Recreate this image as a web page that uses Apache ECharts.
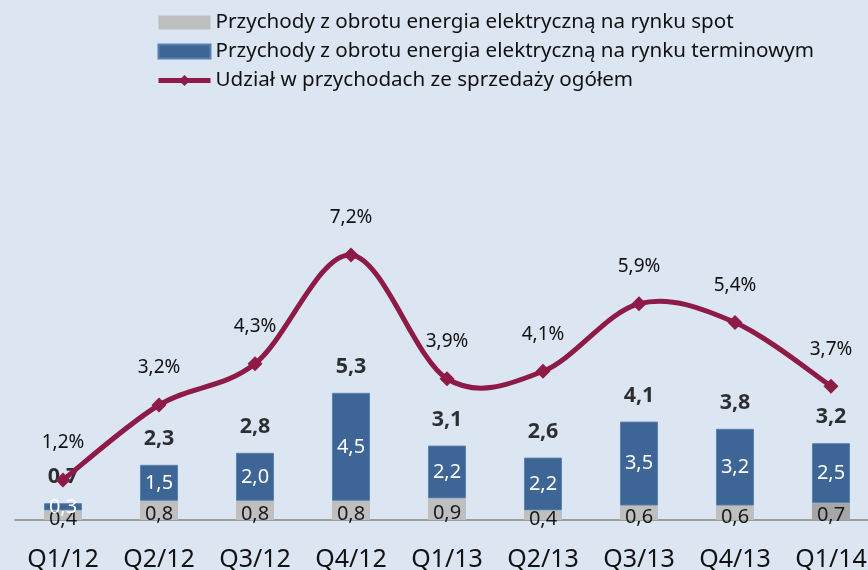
<!DOCTYPE html>
<html>
<head>
<meta charset="utf-8">
<script src="https://cdn.jsdelivr.net/npm/echarts@6/dist/echarts.min.js"></script>
<style>
    html, body { margin: 0; padding: 0; background: #DCE6F2; }
    #chart { width: 868px; height: 570px; }
</style>
</head>
<body>
<div id="chart"></div>
<script>
    // dane z wykresu
    var quarters = ['Q1/12', 'Q2/12', 'Q3/12', 'Q4/12', 'Q1/13', 'Q2/13', 'Q3/13', 'Q4/13', 'Q1/14'];
    var spot = [0.4, 0.8, 0.8, 0.8, 0.9, 0.4, 0.6, 0.6, 0.7];
    var terminowy = [0.3, 1.5, 2.0, 4.5, 2.2, 2.2, 3.5, 3.2, 2.5];
    var totals = [0.7, 2.3, 2.8, 5.3, 3.1, 2.6, 4.1, 3.8, 3.2];
    var udzial = [1.2, 3.2, 4.3, 7.2, 3.9, 4.1, 5.9, 5.4, 3.7];

    var names = [
        'Przychody z obrotu energia elektryczną na rynku spot',
        'Przychody z obrotu energia elektryczną na rynku terminowym',
        'Udział w przychodach ze sprzedaży ogółem'
    ];
    var lineColor = '#8E1A48';
    var font = '"Noto Sans", sans-serif';
    var comma = function (v, d) { return v.toFixed(d).replace('.', ','); };

    // wygładzona linia jak w Excelu (Catmull-Rom), punkty liczone przez osie wykresu
    function renderSegment(params, api) {
        var i = api.value(0);
        if (i >= udzial.length - 1) return null;
        var pt = function (k) {
            k = Math.max(0, Math.min(udzial.length - 1, k));
            return api.coord([k, udzial[k]]);
        };
        var p0 = pt(i - 1), p1 = pt(i), p2 = pt(i + 1), p3 = pt(i + 2);
        return {
            type: 'bezierCurve',
            shape: {
                x1: p1[0], y1: p1[1],
                x2: p2[0], y2: p2[1],
                cpx1: p1[0] + (p2[0] - p0[0]) / 6, cpy1: p1[1] + (p2[1] - p0[1]) / 6,
                cpx2: p2[0] - (p3[0] - p1[0]) / 6, cpy2: p2[1] - (p3[1] - p1[1]) / 6
            },
            style: { stroke: lineColor, lineWidth: 5, fill: null }
        };
    }

    var chart = echarts.init(document.getElementById('chart'));
    chart.setOption({
        backgroundColor: '#DCE6F2',
        textStyle: { fontFamily: font },
        legend: {
            orient: 'vertical',
            left: 151,
            top: 7,
            itemWidth: 52,
            itemHeight: 14,
            itemGap: 8,
            data: [
                { name: names[0], icon: 'rect' },
                { name: names[1], icon: 'rect' },
                { name: names[2], lineStyle: { color: lineColor, width: 5, opacity: 1 } }
            ],
            textStyle: { fontSize: 20.6, color: '#111', lineHeight: 21, fontFamily: font }
        },
        grid: { left: 15, right: -11, top: 160, bottom: 50, outerBoundsMode: 'none' },
        xAxis: {
            type: 'category',
            data: quarters,
            axisLine: { lineStyle: { color: '#858585', width: 1.5 } },
            axisTick: { show: false },
            axisLabel: { fontSize: 25, color: '#111', margin: 27, fontFamily: font }
        },
        yAxis: [
            { type: 'value', min: 0, max: 15, show: false },
            { type: 'value', min: 0.133, max: 9.733, show: false }
        ],
        series: [
            {
                name: names[0],
                type: 'bar',
                stack: 'p',
                barWidth: 38,
                itemStyle: { color: '#BFBFBF' },
                label: {
                    show: true, position: 'inside', offset: [0, 4],
                    fontSize: 20, color: '#1a1a1a', fontFamily: font,
                    formatter: function (p) { return comma(p.value, 1); }
                },
                data: spot.map(function (v, i) {
                    return i === spot.length - 1 ? { value: v, itemStyle: { color: '#A6A6A6' } } : v;
                })
            },
            {
                name: names[1],
                type: 'bar',
                stack: 'p',
                barWidth: 38,
                itemStyle: { color: '#3D6596', borderColor: '#5A80B0', borderWidth: 1 },
                label: {
                    show: true, position: 'inside',
                    fontSize: 20, color: '#fff', fontFamily: font,
                    formatter: function (p) { return comma(p.value, 1); }
                },
                data: terminowy
            },
            {
                name: 'suma',
                type: 'scatter',
                symbolSize: 0,
                silent: true,
                label: {
                    show: true, position: 'top', distance: 15,
                    fontSize: 21.5, fontWeight: 'bold', color: '#000', fontFamily: font,
                    formatter: function (p) { return comma(p.value, 1); }
                },
                data: totals,
                z: 2
            },
            {
                name: 'krzywa',
                type: 'custom',
                yAxisIndex: 1,
                silent: true,
                renderItem: renderSegment,
                data: udzial.map(function (v, i) { return [i, v]; }),
                z: 3
            },
            {
                name: names[2],
                type: 'line',
                yAxisIndex: 1,
                symbol: 'diamond',
                symbolSize: 15,
                lineStyle: { color: lineColor, width: 5, opacity: 0 },
                itemStyle: { color: lineColor },
                label: {
                    show: true, position: 'top', distance: 20,
                    fontSize: 19, color: '#111', fontFamily: font,
                    formatter: function (p) { return comma(p.value, 1) + '%'; }
                },
                data: udzial,
                z: 4
            }
        ]
    });
</script>
</body>
</html>
